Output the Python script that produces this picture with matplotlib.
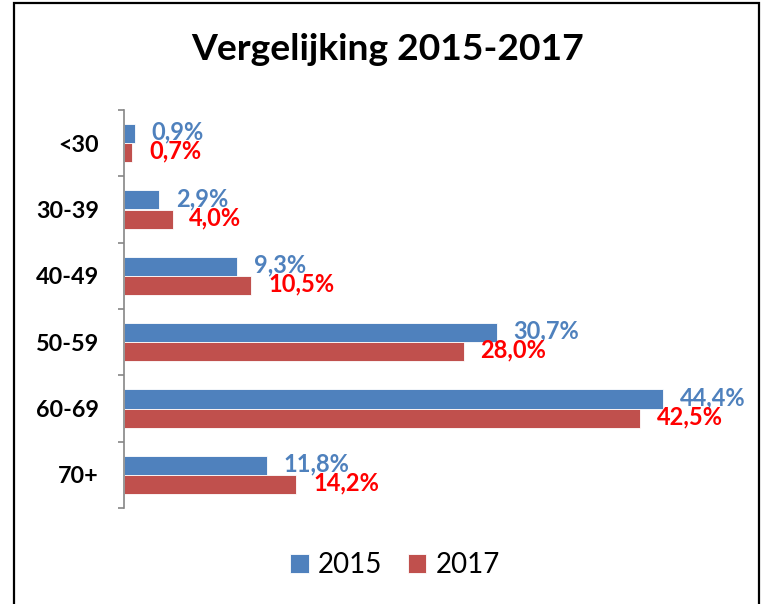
import numpy as np
import matplotlib.pyplot as plt
from matplotlib.patches import Rectangle

categories = ["<30", "30-39", "40-49", "50-59", "60-69", "70+"]
values_2015 = [0.9, 2.9, 9.3, 30.7, 44.4, 11.8]
values_2017 = [0.7, 4.0, 10.5, 28.0, 42.5, 14.2]
series_names = ["2015", "2017"]

blue = "#4F81BD"
red = "#C0504D"

plt.rcParams['font.family'] = ['Lato', 'DejaVu Sans']

fig = plt.figure(figsize=(7.65, 6.04), dpi=100)
ax = fig.add_axes([124 / 765, 1 - 508 / 604, 607 / 765, 398 / 604])

y = np.arange(len(categories))
h = 0.287
b1 = ax.barh(y - h / 2, values_2015, height=h, color=blue, edgecolor='white', linewidth=0.6, label=series_names[0])
b2 = ax.barh(y + h / 2, values_2017, height=h, color=red, edgecolor='white', linewidth=0.6, label=series_names[1])

def fmt(v):
    return f"{v:.1f}".replace(".", ",") + "%"

for yi, v in zip(y, values_2015):
    ax.annotate(fmt(v), (v, yi - h / 2), xytext=(12, 1), textcoords='offset points',
                ha='left', va='center', color=blue, fontsize=17, fontweight='bold')
for yi, v in zip(y, values_2017):
    ax.annotate(fmt(v), (v, yi + h / 2), xytext=(12, 1), textcoords='offset points',
                ha='left', va='center', color='#FF0000', fontsize=17, fontweight='bold')

ax.set_xlim(0, 50)
ax.set_ylim(len(categories) - 0.5, -0.5)
ax.set_yticks(y)
ax.set_yticklabels(categories, fontsize=16.8, fontweight='bold')
ax.set_yticks(np.arange(len(categories) + 1) - 0.5, minor=True)
ax.tick_params(axis='y', which='major', length=0, pad=18)
ax.tick_params(axis='y', which='minor', length=4.5, width=1.2, color='#868686', direction='out')
ax.set_xticks([])
for s in ['top', 'right', 'bottom']:
    ax.spines[s].set_visible(False)
ax.spines['left'].set_color('#868686')
ax.spines['left'].set_linewidth(1.2)

fig.text(388 / 765, 1 - 49 / 604, "Vergelijking 2015-2017", ha='center', va='center',
         fontsize=26.8, fontweight='bold')

fig.legend(handles=[b1, b2], labels=series_names, loc='center', bbox_to_anchor=(395 / 765, 1 - 565 / 604),
           ncol=2, frameon=False, fontsize=20, handlelength=0.68, handleheight=0.68,
           handletextpad=0.32, columnspacing=0.9)

fig.patches.append(Rectangle((14 / 765, -0.1), (759 - 14) / 765, 1.1 - 3 / 604, transform=fig.transFigure,
                             fill=False, edgecolor='black', linewidth=1.6))

fig.savefig("out.png", dpi=100)
